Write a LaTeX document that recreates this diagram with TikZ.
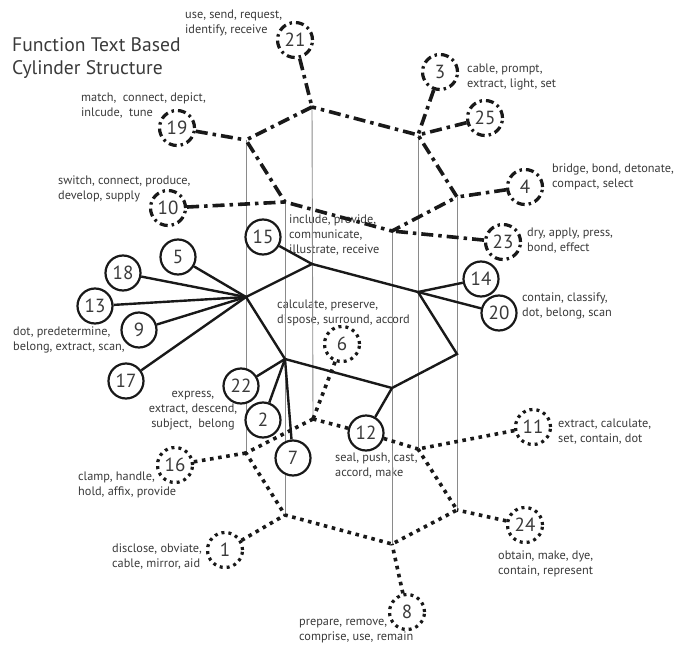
\documentclass[tikz,border=0pt]{standalone}
\usepackage{fontspec}
\setmainfont{PT Sans}
\usetikzlibrary{backgrounds}
\definecolor{txt}{HTML}{3A3A3A}
\definecolor{vline}{HTML}{8A8A8A}
\newcommand{\labfont}{\fontsize{12.3pt}{15pt}\selectfont}
\newcommand{\numfont}{\fontsize{19pt}{20pt}\selectfont}
\newcommand{\titfont}{\fontsize{19.6pt}{23pt}\selectfont}
\begin{document}
\begin{tikzpicture}[x=1pt,y=-1pt,
  sol/.style={line width=2.4pt, draw=black!90},
  dd/.style={line width=3.6pt, draw=black!90, dash pattern=on 12pt off 5pt on 3.5pt off 5pt},
  dt/.style={line width=3.6pt, draw=black!90, dash pattern=on 3.6pt off 4.6pt},
  vl/.style={line width=0.9pt, draw=vline},
  cs/.style={circle, draw=black!90, fill=white, line width=2.2pt, minimum size=35pt, inner sep=0pt, font=\numfont, text=txt},
  cdd/.style={cs, line width=3.2pt, dash pattern=on 8pt off 4pt on 2.5pt off 4pt},
  cdt/.style={cs, line width=3.2pt, dash pattern=on 3pt off 4pt},
  lab/.style={font=\labfont, text=txt, align=left, inner sep=0pt}]
\useasboundingbox (0,0) rectangle (676,644);
% top hexagon (dash-dot)
\coordinate (A1) at (312,107);
\coordinate (A2) at (246,140);
\coordinate (A3) at (285,202);
\coordinate (A4) at (392,231);
\coordinate (A5) at (457,197);
\coordinate (A6) at (418,135);
% middle hexagon (solid)
\coordinate (B1) at (312,264);
\coordinate (B2) at (246,297);
\coordinate (B3) at (285,359);
\coordinate (B4) at (392,388);
\coordinate (B5) at (457,354);
\coordinate (B6) at (418,292);
% bottom hexagon (dotted)
\coordinate (C1) at (313,419);
\coordinate (C2) at (246,453);
\coordinate (C3) at (285,515);
\coordinate (C4) at (392,544);
\coordinate (C5) at (457,510);
\coordinate (C6) at (418,449);

% title
\node[font=\titfont, text=txt, align=left, inner sep=0pt, anchor=west] (title) at (12,58) {Function Text Based\\Cylinder Structure};

% dash-dot nodes
\node[cdd] (n21) at (295,40) {21};
\node[cdd] (n19) at (177,128) {19};
\node[cdd] (n10) at (168,208) {10};
\node[cdd] (n3) at (440,72) {3};
\node[cdd] (n25) at (485,118) {25};
\node[cdd] (n4) at (525,187) {4};
\node[cdd] (n23) at (503,242) {23};
% solid nodes
\node[cs] (n15) at (263,237) {15};
\node[cs] (n5) at (178,257) {5};
\node[cs] (n18) at (123,273) {18};
\node[cs] (n13) at (95,306) {13};
\node[cs] (n9) at (139,330) {9};
\node[cs] (n17) at (126,381) {17};
\node[cs] (n22) at (241,386) {22};
\node[cs] (n2) at (263,420) {2};
\node[cs] (n7) at (293,458) {7};
\node[cs] (n12) at (366,433) {12};
\node[cs] (n14) at (481,279) {14};
\node[cs] (n20) at (499,313) {20};
% dotted nodes
\node[cdt] (n6) at (342,344) {6};
\node[cdt] (n16) at (175,465) {16};
\node[cdt] (n1) at (225,550) {1};
\node[cdt] (n8) at (407,612) {8};
\node[cdt] (n24) at (525,525) {24};
\node[cdt] (n11) at (533,427) {11};

\begin{scope}[on background layer]
% labels
\node[lab, anchor=west] (l21) at (185,23) {use, send, request,\\identify, receive};
\node[lab, anchor=west] (l19) at (81,106) {match,~ connect, depict,\\inlcude,~ tune};
\node[lab, anchor=west] (l10) at (58,189) {switch, connect, produce,\\develop, supply};
\node[lab, anchor=west] (l3) at (467,77.5) {cable, prompt,\\extract, light, set};
\node[lab, anchor=west] (l4) at (552,176.5) {bridge, bond, detonate,\\compact, select};
\node[lab, anchor=west] (l23) at (527,241) {dry, apply, press,\\bond, effect};
\node[lab, anchor=west] (l15) at (289,235) {include, provide,\\communicate,\\illustrate, receive};
\node[lab, anchor=west] (l6) at (277,313) {calculate, preserve,\\dispose, surround, accord};
\node[lab, anchor=west] (l20) at (522,305.5) {contain, classify,\\dot, belong, scan};
\node[lab, anchor=west] (l9) at (13,340) {dot, predetermine,\\belong, extract, scan,};
\node[lab, align=center] (l22) at (193,411) {express,\\extract, descend,\\subject,~ belong};
\node[lab, anchor=west] (l12) at (335,466) {seal, push, cast,\\accord, make};
\node[lab, anchor=west] (l11) at (558,431.5) {extract, calculate,\\set, contain, dot};
\node[lab, anchor=west] (l16) at (78,484.5) {clamp, handle,\\hold, affix, provide};
\node[lab, anchor=west] (l1) at (112,557) {disclose, obviate,\\cable, mirror, aid};
\node[lab, anchor=west] (l8) at (299,631.5) {prepare, remove,\\comprise, use, remain};
\node[lab, anchor=west] (l24) at (498,564) {obtain, make, dye,\\contain, represent};

% vertical thin lines
\draw[vl] (A1) -- (C1);
\draw[vl] (A2) -- (C2);
\draw[vl] (A3) -- (C3);
\draw[vl] (A4) -- (C4);
\draw[vl] (A5) -- (C5);
\draw[vl] (A6) -- (C6);

% top hexagon
\draw[dd] (A1) -- (A2) -- (A3) -- (A4) -- (A5) -- (A6) -- cycle;
\draw[dd] (n21) -- (A1);
\draw[dd] (n19) -- (A2);
\draw[dd] (n10) -- (A3);
\draw[dd] (n3) -- (A6);
\draw[dd] (n25) -- (A6);
\draw[dd] (n4) -- (A5);
\draw[dd] (n23) -- (A4);

% middle hexagon
\draw[sol, line join=miter] (B1) -- (B2) -- (B3) -- (B4) -- (B5) -- (B6) -- cycle;
\draw[sol] (n15) -- (B1);
\foreach \n in {n5,n18,n13,n9,n17} { \draw[sol] (\n) -- (B2); }
\foreach \n in {n22,n2,n7} { \draw[sol] (\n) -- (B3); }
\draw[sol] (n12) -- (B4);
\draw[sol] (n14) -- (B6);
\draw[sol] (n20) -- (B6);

% bottom hexagon
\draw[dt] (C1) -- (C2) -- (C3) -- (C4) -- (C5) -- (C6);
\draw[dt] (C1) -- (n12);
\draw[dt] (n12) -- (C6);
\draw[dt] (n6) -- (C1);
\draw[dt] (n16) -- (C2);
\draw[dt] (n1) -- (C3);
\draw[dt] (n8) -- (C4);
\draw[dt] (n24) -- (C5);
\draw[dt] (n11) -- (C6);
\end{scope}
\end{tikzpicture}
\end{document}
